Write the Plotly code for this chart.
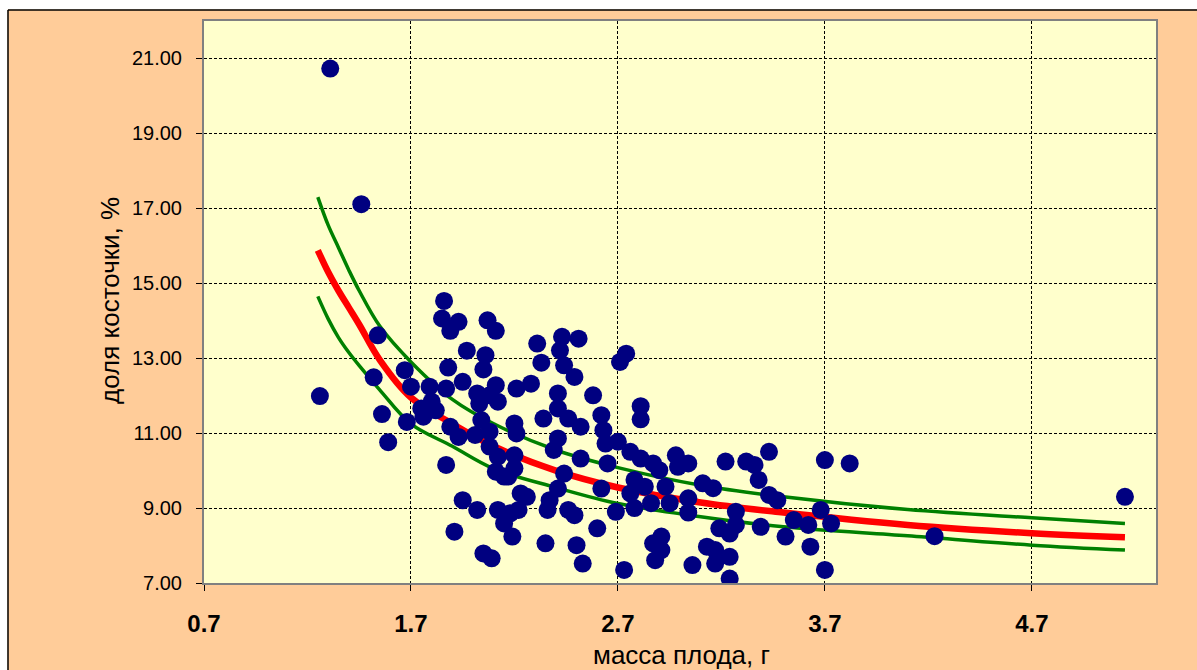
import plotly.graph_objects as go

# ---- data ----
fruit_mass = [
    1.31, 1.46, 1.26, 1.54, 1.52, 1.56, 1.59,
    1.86, 1.85, 1.93, 1.89, 2.07, 2.11, 1.97, 2.06, 1.88, 2.05, 1.67, 1.95, 1.70, 1.79,
    1.87, 2.02, 2.11, 2.08, 2.03, 2.12, 2.21, 2.28, 2.31, 2.33, 2.43, 2.51, 2.42, 2.44,
    2.49, 2.41, 2.58,
    1.80, 1.75, 1.68, 1.76, 1.82, 1.89, 1.93, 2.01, 2.04, 2.08, 2.08, 2.12, 2.11, 2.17,
    2.20, 2.20, 2.21, 2.20, 2.34, 2.41,
    2.41, 2.39, 2.46, 2.52, 2.62, 2.52, 2.65, 2.63, 2.64, 2.44, 2.41, 2.37, 2.62,
    1.87, 1.95, 2.02, 1.91, 2.05, 2.09, 2.12, 2.15, 2.19, 2.18, 2.22, 2.26, 2.23, 2.15,
    2.36, 2.46, 2.49, 2.35, 2.50, 2.53, 2.60,
    2.71, 2.74, 2.81, 2.81, 2.70, 2.76, 2.81, 2.87, 2.90, 2.98, 3.04, 2.99, 3.22, 3.32,
    3.36, 3.43, 3.38, 3.11, 3.16, 2.78, 2.83, 2.76, 2.93, 2.86, 2.78, 2.69, 2.95, 3.04,
    3.04, 3.43, 3.47, 3.27, 3.27, 3.19, 3.24, 3.39, 3.55, 3.62, 3.68, 3.73, 3.51, 3.63,
    2.87, 2.91, 2.88, 2.91, 3.13, 3.17, 3.17, 3.24, 3.06, 3.24, 2.73, 3.70, 3.70,
    3.82, 4.23, 5.15,
]
stone_share = [
    20.73, 17.11, 11.99, 13.61, 12.49, 11.51, 10.76,
    14.53, 14.06, 13.97, 13.73, 14.01, 13.73, 13.20, 13.08, 12.75, 12.70, 12.68, 12.37, 12.24, 12.24,
    12.19, 12.06, 12.28, 12.01, 11.79, 11.84, 12.19, 12.32, 13.39, 12.88, 13.57, 13.52, 13.21, 12.81,
    12.50, 12.06, 12.01,
    11.84, 11.66, 11.30, 11.44, 11.61, 11.17, 10.90, 10.95, 11.35, 11.04, 10.64, 10.37, 9.97, 9.84,
    10.06, 10.41, 10.99, 11.26, 11.39, 11.66,
    10.86, 10.55, 11.39, 11.17, 11.48, 10.32, 10.19, 11.08, 10.72, 9.92, 9.52, 9.21, 9.52,
    10.15, 9.21, 8.95, 8.37, 7.79, 7.66, 8.95, 8.59, 8.24, 8.86, 8.95, 9.30, 9.39, 9.84,
    8.95, 8.95, 8.81, 8.06, 8.01, 7.52, 8.46,
    12.90, 13.12, 11.72, 11.37, 10.77, 10.50, 10.32, 10.19, 10.01, 10.41, 10.19, 10.10, 10.24, 10.24,
    10.15, 10.50, 9.75, 9.66, 9.53, 9.75, 9.57, 9.39, 9.57, 9.13, 9.00, 8.90, 9.13, 9.26,
    8.88, 9.35, 9.21, 8.90, 8.55, 8.46, 8.32, 8.50, 8.68, 8.55, 8.95, 8.59, 8.24, 7.97,
    8.06, 8.24, 7.61, 7.88, 7.97, 7.88, 7.52, 7.70, 7.48, 7.12, 7.35, 7.35, 10.28,
    10.19, 8.25, 9.30,
]

fit_x = [1.25, 1.30, 1.35, 1.40, 1.45, 1.55, 1.70, 1.90, 2.10, 2.40, 2.70, 3.10, 3.50, 4.10, 4.70, 5.15]
fit_mean = [15.88, 15.30, 14.80, 14.35, 13.90, 12.95, 11.95, 11.25, 10.65, 10.00, 9.55, 9.15, 8.88, 8.55, 8.33, 8.22]
fit_upper = [17.30, 16.55, 15.95, 15.35, 14.80, 13.85, 12.90, 11.90, 11.25, 10.55, 10.08, 9.61, 9.30, 8.96, 8.74, 8.59]
fit_lower = [14.65, 14.05, 13.55, 13.15, 12.80, 12.15, 11.25, 10.65, 10.05, 9.55, 9.12, 8.77, 8.50, 8.26, 8.01, 7.88]

x_ticks = [0.7, 1.7, 2.7, 3.7, 4.7]
y_ticks = [7, 9, 11, 13, 15, 17, 19, 21]

fig = go.Figure()
fig.add_trace(go.Scatter(x=fit_x, y=fit_upper, mode="lines", line=dict(color="#008000", width=3.5, shape="spline"), showlegend=False, hoverinfo="skip"))
fig.add_trace(go.Scatter(x=fit_x, y=fit_lower, mode="lines", line=dict(color="#008000", width=3.5, shape="spline"), showlegend=False, hoverinfo="skip"))
fig.add_trace(go.Scatter(x=fit_x, y=fit_mean, mode="lines", line=dict(color="#FF0000", width=6.5, shape="spline"), showlegend=False, hoverinfo="skip"))
fig.add_trace(go.Scatter(x=fruit_mass, y=stone_share, mode="markers",
                         marker=dict(color="#000080", size=18, line=dict(width=0)), showlegend=False))

L, R, T, B = 204, 41, 21, 87
W, H = 1197, 670
pw, ph = W - L - R, H - T - B

def px(xp):
    return (xp - L) / pw

def py(yp):
    return (H - B - yp) / ph

axis_common = dict(
    showline=True, linecolor="#808080", linewidth=2, mirror=True,
    showgrid=True, gridcolor="#000000", gridwidth=1, griddash="3px,2px",
    ticks="outside", ticklen=6, tickcolor="#000000", tickwidth=1,
    zeroline=False,
)

fig.update_layout(
    width=W, height=H,
    margin=dict(l=L, r=R, t=T, b=B),
    paper_bgcolor="#FFCC99",
    plot_bgcolor="#FFFFCC",
    font=dict(family="Liberation Sans, Arial, sans-serif", color="#000000"),
    xaxis=dict(range=[0.7, 5.3], tickvals=x_ticks, ticktext=[f"{v:.1f}" for v in x_ticks],
               tickfont=dict(size=24, family="Liberation Sans, Arial, sans-serif", weight="bold"),
               ticklabelstandoff=12, **axis_common),
    yaxis=dict(range=[7, 22], tickvals=y_ticks, ticktext=[f"{v:.2f}" for v in y_ticks],
               tickfont=dict(size=20), ticklabelstandoff=10, **axis_common),
    shapes=[
        dict(type="rect", xref="paper", yref="paper", x0=px(-5), x1=px(1210), y0=py(9.5), y1=py(-5),
             fillcolor="#FFFFFF", line=dict(width=0), layer="above"),
        dict(type="rect", xref="paper", yref="paper", x0=px(-5), x1=px(7.5), y0=py(680), y1=py(-5),
             fillcolor="#FFFFFF", line=dict(width=0), layer="above"),
        dict(type="line", xref="paper", yref="paper", x0=px(8), x1=px(1210), y0=py(10), y1=py(10),
             line=dict(color="#000000", width=1.5)),
        dict(type="line", xref="paper", yref="paper", x0=px(8), x1=px(8), y0=py(10), y1=py(680),
             line=dict(color="#000000", width=1.5)),
    ],
    annotations=[
        dict(text="масса плода, г", xref="paper", yref="paper", x=px(681), y=py(655),
             xanchor="center", yanchor="middle", showarrow=False, font=dict(size=26)),
        dict(text="доля косточки, %", xref="paper", yref="paper", x=px(110), y=py(301),
             xanchor="center", yanchor="middle", showarrow=False, textangle=-90, font=dict(size=26)),
    ],
)

fig.write_html(
    "out.html",
    config={"displayModeBar": False},
    post_script="document.body.style.margin='0';document.body.style.overflow='hidden';",
)
